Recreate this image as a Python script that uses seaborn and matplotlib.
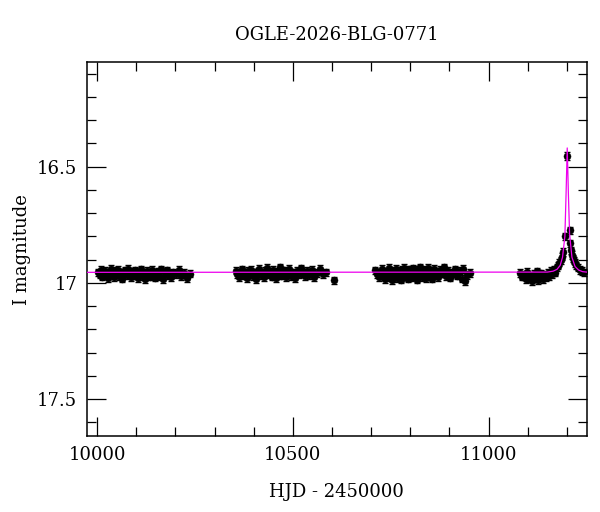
import matplotlib
matplotlib.use("Agg")
import matplotlib.pyplot as plt
import numpy as np
import pandas as pd
import seaborn as sns
from matplotlib.ticker import MultipleLocator

# season 1
s1_t = [10003, 10006, 10010, 10013, 10017, 10020, 10024, 10027, 10031, 10035,
        10038, 10042, 10045, 10049, 10053, 10056, 10060, 10064, 10067, 10071,
        10075, 10078, 10082, 10086, 10089, 10093, 10097, 10101, 10104, 10108,
        10112, 10116, 10119, 10123, 10127, 10131, 10135, 10139, 10143, 10147,
        10151, 10155, 10159, 10164, 10168, 10173, 10178, 10183, 10189, 10195,
        10201, 10208, 10215, 10223, 10230, 10236]
s1_m = [16.955, 16.965, 16.945, 16.974, 16.958, 16.948, 16.968, 16.979, 16.957, 16.941,
        16.965, 16.976, 16.950, 16.962, 16.944, 16.971, 16.955, 16.982, 16.963, 16.947,
        16.966, 16.939, 16.958, 16.975, 16.951, 16.969, 16.946, 16.961, 16.979, 16.956,
        16.942, 16.972, 16.959, 16.985, 16.950, 16.965, 16.974, 16.945, 16.957, 16.978,
        16.963, 16.951, 16.970, 16.942, 16.983, 16.958, 16.947, 16.969, 16.976, 16.955,
        16.964, 16.945, 16.972, 16.957, 16.979, 16.961]

# season 2
s2_t = [10354, 10358, 10362, 10366, 10370, 10374, 10378, 10382, 10386, 10390,
        10394, 10398, 10402, 10406, 10410, 10414, 10418, 10422, 10426, 10430,
        10434, 10438, 10442, 10446, 10450, 10454, 10458, 10462, 10466, 10470,
        10474, 10478, 10482, 10486, 10490, 10495, 10500, 10505, 10510, 10515,
        10520, 10525, 10530, 10536, 10542, 10548, 10555, 10562, 10570, 10578,
        10584, 10606]
s2_m = [16.948, 16.964, 16.975, 16.956, 16.942, 16.969, 16.958, 16.979, 16.950, 16.965,
        16.945, 16.972, 16.957, 16.983, 16.953, 16.941, 16.968, 16.961, 16.976, 16.949,
        16.937, 16.965, 16.956, 16.974, 16.944, 16.962, 16.979, 16.951, 16.934, 16.969,
        16.958, 16.946, 16.975, 16.961, 16.941, 16.970, 16.955, 16.980, 16.948, 16.964,
        16.938, 16.958, 16.972, 16.950, 16.966, 16.943, 16.977, 16.957, 16.940, 16.963,
        16.955, 16.990]

# season 3
s3_t = [10711, 10714, 10718, 10721, 10725, 10728, 10732, 10735, 10739, 10742,
        10745, 10748, 10751, 10754, 10757, 10760, 10763, 10766, 10769, 10772,
        10775, 10778, 10781, 10784, 10787, 10790, 10793, 10796, 10799, 10802,
        10805, 10808, 10811, 10814, 10817, 10820, 10823, 10826, 10829, 10832,
        10835, 10838, 10841, 10844, 10847, 10850, 10853, 10856, 10860, 10864,
        10868, 10872, 10876, 10880, 10885, 10890, 10896, 10902, 10908, 10914,
        10920, 10926, 10931, 10935, 10940, 10946, 10952]
s3_m = [16.946, 16.964, 16.955, 16.975, 16.958, 16.941, 16.970, 16.983, 16.952, 16.964,
        16.937, 16.977, 16.958, 16.989, 16.948, 16.968, 16.940, 16.980, 16.961, 16.950,
        16.986, 16.944, 16.966, 16.935, 16.974, 16.956, 16.982, 16.942, 16.964, 16.978,
        16.948, 16.938, 16.971, 16.957, 16.987, 16.943, 16.964, 16.933, 16.975, 16.955,
        16.945, 16.969, 16.979, 16.937, 16.958, 16.972, 16.949, 16.982, 16.940, 16.964,
        16.955, 16.977, 16.943, 16.961, 16.934, 16.971, 16.950, 16.978, 16.958, 16.942,
        16.969, 16.948, 16.982, 16.941, 16.994, 16.967, 16.958]

# season 4 (event)
s4_t = [11080, 11085, 11090, 11095, 11099, 11103, 11107, 11111, 11115, 11119,
        11123, 11127, 11131, 11135, 11139, 11143, 11147, 11151, 11155, 11159,
        11163, 11167, 11171, 11175, 11178, 11181, 11184, 11187, 11190, 11195,
        11200, 11207, 11209, 11211, 11213, 11215, 11218, 11221, 11224, 11228,
        11233, 11238, 11243]
s4_m = [16.958, 16.974, 16.965, 16.984, 16.953, 16.979, 16.968, 16.994, 16.962, 16.981,
        16.951, 16.988, 16.970, 16.960, 16.985, 16.966, 16.977, 16.956, 16.971, 16.948,
        16.964, 16.942, 16.956, 16.933, 16.926, 16.913, 16.903, 16.888, 16.868, 16.800,
        16.455, 16.775, 16.830, 16.860, 16.880, 16.895, 16.905, 16.915, 16.925, 16.935,
        16.945, 16.950, 16.955]

mag_err = 0.016

# model curve
model_t = [9974, 11150, 11165, 11175, 11183, 11189, 11195, 11198, 11201,
           11204, 11207, 11213, 11221, 11230, 11240, 11251]
model_m = [16.955, 16.954, 16.950, 16.942, 16.925, 16.890, 16.800, 16.620, 16.420,
           16.620, 16.790, 16.890, 16.930, 16.945, 16.952, 16.954]

df = pd.DataFrame({"hjd": s1_t + s2_t + s3_t + s4_t,
                   "mag": s1_m + s2_m + s3_m + s4_m})
model = pd.DataFrame({"hjd": model_t, "mag": model_m})

sns.set_style("ticks")
plt.rcParams["font.family"] = ["DejaVu Serif"]
for key in ["text.color", "axes.labelcolor", "xtick.color", "ytick.color",
            "axes.edgecolor"]:
    plt.rcParams[key] = "black"

fig = plt.figure(figsize=(6, 5.12), dpi=100)
ax = fig.add_axes([0.145, 0.148, 0.833, 0.731])

ax.errorbar(df["hjd"], df["mag"], yerr=mag_err, fmt="none", ecolor="black",
            elinewidth=1.0, capsize=2.5, capthick=1.0, zorder=2)
sns.scatterplot(data=df, x="hjd", y="mag", ax=ax, color="black", s=26,
                marker="o", edgecolor="black", linewidth=0.3, zorder=3)
sns.lineplot(data=model, x="hjd", y="mag", ax=ax, color="#ee00ee",
             linewidth=0.9, zorder=4)

ax.set_xlim(9974, 11251)
ax.set_ylim(17.66, 16.05)

ax.xaxis.set_major_locator(MultipleLocator(500))
ax.xaxis.set_minor_locator(MultipleLocator(100))
ax.yaxis.set_minor_locator(MultipleLocator(0.1))
ax.set_yticks([16.5, 17, 17.5])
ax.set_yticklabels(["16.5", "17", "17.5"])

ax.tick_params(which="both", direction="in", top=True, right=True,
               width=0.9, labelsize=13, pad=7)
ax.tick_params(which="major", length=14)
ax.tick_params(which="minor", length=6.5)
for sp in ax.spines.values():
    sp.set_linewidth(1.1)

ax.set_xlabel("HJD - 2450000", fontsize=13, labelpad=14)
ax.set_ylabel("I magnitude", fontsize=13, labelpad=4)
ax.set_title("OGLE-2026-BLG-0771", fontsize=13, pad=16)

fig.savefig("out.png", dpi=100)
